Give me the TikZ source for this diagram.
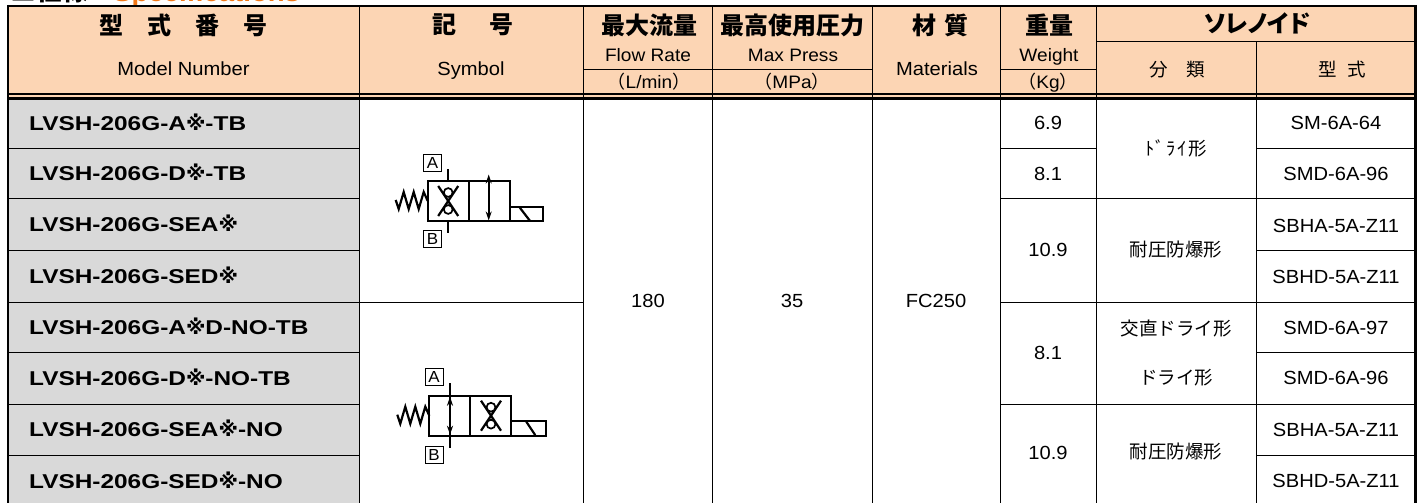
\documentclass[tikz,border=0pt]{standalone}
\usepackage{fontspec}
\usepackage{xcolor}
\usepackage{tikz}
\usetikzlibrary{arrows.meta}
\setmainfont{Liberation Sans}[FakeStretch=1.06]
\newfontfamily\jp{Noto Sans CJK JP}
\newfontfamily\jpk{Noto Sans CJK JP}[RawFeature=+palt]
\newfontfamily\modelfont{Liberation Sans}[FakeStretch=1.22]
\newfontfamily\komefont{DejaVu Sans}
\newcommand{\kome}{{\komefont ※}}
\definecolor{headfill}{RGB}{252,213,180}
\definecolor{modelgray}{RGB}{217,217,217}
\definecolor{titleorange}{RGB}{242,120,24}

\begin{document}
\begin{tikzpicture}[x=1pt,y=-1pt,
    head node/.style={inner sep=0pt,font=\jp\bfseries\fontsize{24}{24}\selectfont},
    en node/.style={inner sep=0pt,anchor=base,font=\fontsize{19}{19}\selectfont},
    unit node/.style={inner sep=0pt,anchor=base,font=\fontsize{18}{18}\selectfont},
    cell node/.style={inner sep=0pt,font=\fontsize{19}{19}\selectfont},
    jp node/.style={inner sep=0pt,font=\jp\fontsize{18.5}{18.5}\selectfont},
    model node/.style={inner sep=0pt,anchor=base west,font=\modelfont\bfseries\fontsize{20}{20}\selectfont},
    port node/.style={draw,line width=1pt,minimum width=18pt,minimum height=17pt,inner sep=0pt,font=\fontsize{16}{16}\selectfont},
    grid line/.style={line width=1pt},
    valve/.style={line width=2.2pt},
    ball/.style={draw,fill=white,line width=1.7pt},
    both tips/.style={{Stealth[length=9pt,width=6pt]}-{Stealth[length=9pt,width=6pt]}}]

	\useasboundingbox (0,0) rectangle (1421,503);

	% title, mostly above the page
	\node[anchor=base west,inner sep=0pt,font=\jp\bfseries\fontsize{26}{26}\selectfont] (mark) at (10,1) {■仕様};
	\node[anchor=base west,inner sep=0pt,text=titleorange,font=\bfseries\fontsize{26}{26}\selectfont] (spec) at (113,1.5) {Specifications};

	% fills
	\fill[headfill] (8,6) rectangle (1415,97);
	\fill[modelgray] (8,99) rectangle (359,510);

	% rules
	\foreach \x in {359,583,712,872,1000,1096}
		\draw[grid line] (\x,6) -- (\x,510);
	\draw[grid line] (1256,42) -- (1256,510);
	\draw[grid line] (1096,42) -- (1415,42);
	\draw[grid line] (583,69.5) -- (872,69.5);
	\draw[grid line] (1000,69.5) -- (1096,69.5);
	\foreach \y in {148,198.5,250,302,352.5,404,455}{
		\draw[grid line] (8,\y) -- (359,\y);
		\draw[grid line] (1256,\y) -- (1415,\y);
	}
	\draw[grid line] (359,302) -- (583,302);
	\foreach \y in {148,198.5,302,404}
		\draw[grid line] (1000,\y) -- (1096,\y);
	\foreach \y in {198.5,302,404}
		\draw[grid line] (1096,\y) -- (1256,\y);

	\draw[line width=1.6pt] (8,93.7) -- (1415,93.7);
	\draw[line width=3pt] (8,98.3) -- (1415,98.3);
	\draw[line width=2pt] (7,5.7) -- (1417,5.7);
	\draw[line width=2.7pt] (8,5) -- (8,510);
	\draw[line width=3.2pt] (1415.7,5) -- (1415.7,510);

	% header
	\node[head node] (modelJ) at (183.5,25) {型　式　番　号};
	\node[en node] (modelE) at (183.5,76) {Model Number};
	\node[head node] (symJ) at (473,25) {記\hspace{34pt}号};
	\node[en node] (symE) at (471,76) {Symbol};
	\node[head node] (flowJ) at (649,25) {最大流量};
	\node[unit node] (flowE) at (648,62) {Flow Rate};
	\node[unit node] (flowU) at (649,88.5) {{\jp （}L/min{\jp ）}};
	\node[head node] (pressJ) at (792,25) {最高使用圧力};
	\node[unit node] (pressE) at (793,62) {Max Press};
	\node[unit node] (pressU) at (792,88.5) {{\jp （}MPa{\jp ）}};
	\node[head node] (matJ) at (940,25) {材\hspace{8pt}質};
	\node[en node] (matE) at (937,76) {Materials};
	\node[head node] (wtJ) at (1049,25) {重量};
	\node[unit node] (wtE) at (1049,62) {Weight};
	\node[unit node] (wtU) at (1048,88.5) {{\jp （}Kg{\jp ）}};
	\node[head node,font=\jpk\bfseries\fontsize{24}{24}\selectfont] (solJ) at (1257,23) {ソレノイド};
	\node[jp node] (clsJ) at (1177,70) {分　類};
	\node[jp node] (typJ) at (1342,70) {型\hspace{11pt}式};

	% model numbers
	\foreach \t/\y [count=\i] in {LVSH-206G-A\kome-TB/123.5,LVSH-206G-D\kome-TB/173.5,
		LVSH-206G-SEA\kome/224.3,LVSH-206G-SED\kome/276,
		LVSH-206G-A\kome D-NO-TB/327.3,LVSH-206G-D\kome-NO-TB/378.3,
		LVSH-206G-SEA\kome-NO/429.5,LVSH-206G-SED\kome-NO/481}
		\node[model node] (m\i) at (29,\y+7.3) {\t};

	% common values
	\node[cell node] (flow) at (648,301) {180};
	\node[cell node] (press) at (792,301) {35};
	\node[cell node] (mat) at (936,301) {FC250};

	% weights
	\node[cell node] (w1) at (1048,122.5) {6.9};
	\node[cell node] (w2) at (1048,173.5) {8.1};
	\node[cell node] (w3) at (1048,250) {10.9};
	\node[cell node] (w4) at (1048,353) {8.1};
	\node[cell node] (w5) at (1048,453) {10.9};

	% solenoid class
	\node[jp node] (c1) at (1176,148.5) {ﾄ\hspace{1pt}ﾞ\hspace{1.5pt}ﾗ\hspace{1.5pt}ｲ\hspace{1.5pt}形};
	\node[jp node] (c2) at (1176,250) {耐圧防爆形};
	\node[jp node] (c3) at (1176,328) {交直ドライ形};
	\node[jp node] (c4) at (1176,378) {ドライ形};
	\node[jp node] (c5) at (1176,452) {耐圧防爆形};

	% solenoid type
	\foreach \t/\y [count=\i] in {SM-6A-64/122.5,SMD-6A-96/174,SBHA-5A-Z11/226,SBHD-5A-Z11/277,
		SMD-6A-97/328,SMD-6A-96/378,SBHA-5A-Z11/430,SBHD-5A-Z11/481}
		\node[cell node] (s\i) at (1336,\y) {\t};

	% symbol 1
	\begin{scope}[shift={(427.7,181)},valve]
		\draw (0,0) rectangle (82,40);
		\draw (41,0) -- (41,40);
		\draw (82,26) rectangle (115,40);
		\draw (92,26.5) -- (102,39.5);
		\draw (0,20) -- (-4,11) -- (-9,28) -- (-14,11) -- (-19,28) -- (-24,11) -- (-29,28) -- (-32,19);
		\node[port node] (pa1) at (4.8,-18) {A};
		\node[port node] (pb1) at (4.8,57.5) {B};
		\coordinate (a1) at (20.5,-12);
		\coordinate (b1) at (20.5,52);
		\draw (a1) -- (20.5,0) (20.5,40) -- (b1);
		\draw (10.5,5) -- (30.5,35) (30.5,5) -- (10.5,35);
		\draw[ball] (20.5,11.5) circle (4.4) (20.5,28.5) circle (4.4);
		\draw[both tips] (61,-6.5) -- (61,39.5);
	\end{scope}

	% symbol 2
	\begin{scope}[shift={(429.3,395.7)},valve]
		\draw (0,0) rectangle (82,40);
		\draw (41,0) -- (41,40);
		\draw (82,25.5) rectangle (116.5,40);
		\draw (97,26) -- (106,39.5);
		\draw (0,20) -- (-4,11) -- (-9,28) -- (-14,11) -- (-19,28) -- (-24,11) -- (-29,28) -- (-32,19);
		\node[port node] (pa2) at (4.8,-19) {A};
		\node[port node] (pb2) at (4.8,59) {B};
		\coordinate (a2) at (20.7,-12.5);
		\coordinate (b2) at (20.7,52.5);
		\draw (a2) -- (b2);
		\draw[both tips] (20.7,1) -- (20.7,39);
		\draw (51.7,5) -- (71.7,35) (71.7,5) -- (51.7,35);
		\draw[ball] (61.7,11.5) circle (4.4) (61.7,28.5) circle (4.4);
	\end{scope}

\end{tikzpicture}
\end{document}
